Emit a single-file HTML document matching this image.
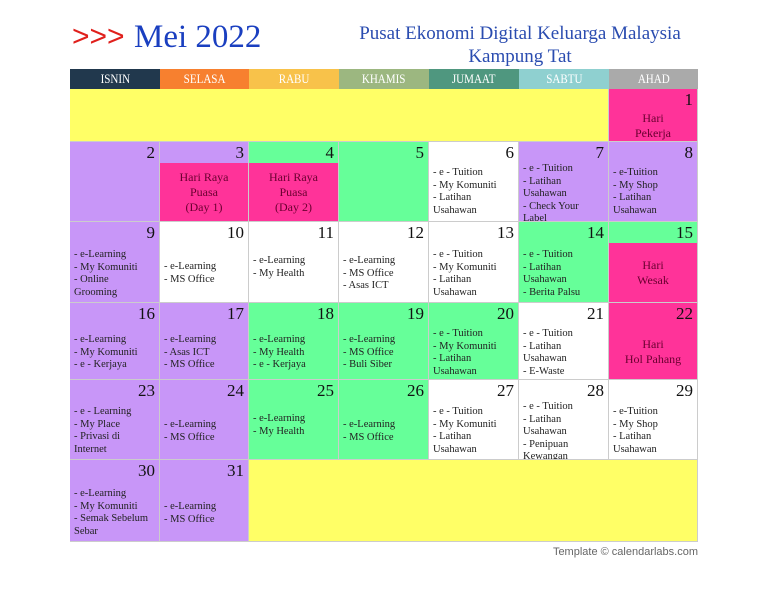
<!DOCTYPE html>
<html><head><meta charset="utf-8"><style>
body{margin:0;width:768px;height:593px;background:#fff;position:relative;overflow:hidden;font-family:"Liberation Serif",serif}
.a{position:absolute}
.h{position:absolute;top:69px;height:20px;color:#fff;font-size:13px;text-align:center;line-height:20px}
.h span{display:inline-block;transform:scaleX(.85)}
.c{position:absolute;box-sizing:border-box;border-right:1px solid #ccc;border-bottom:1px solid #ccc}
.n{position:absolute;right:4px;top:1px;font-size:17px;color:#111}
.t{position:absolute;left:4px;font-size:10.5px;line-height:12.6px;color:#222;white-space:nowrap}
.p{position:absolute;left:0;right:0;background:#ff3399;color:#6a0030;text-align:center;font-size:12px;line-height:15px;display:flex;flex-direction:column;justify-content:center}
.P{background:#c896f8}.G{background:#66ff99}.W{background:#fff}.K{background:#ff3399}.Y{background:#ffff66}
</style></head><body>
<div class="a" style="left:72px;top:20px;font-size:30px;color:#e0201c;font-family:'Liberation Sans',sans-serif">&gt;&gt;&gt;</div>
<div class="a" style="left:134px;top:19px;font-size:33px;color:#1a3fc0">Mei 2022</div>
<div class="a" style="left:330px;top:22px;width:380px;text-align:center;font-size:19px;line-height:23px;color:#2a4cb0">Pusat Ekonomi Digital Keluarga Malaysia<br>Kampung Tat</div>

<div class="h" style="left:70px;width:90px;background:#21384d"><span>ISNIN</span></div>
<div class="h" style="left:160px;width:89px;background:#f7802f"><span>SELASA</span></div>
<div class="h" style="left:249px;width:90px;background:#f8c24a"><span>RABU</span></div>
<div class="h" style="left:339px;width:90px;background:#9cb780"><span>KHAMIS</span></div>
<div class="h" style="left:429px;width:90px;background:#4f977f"><span>JUMAAT</span></div>
<div class="h" style="left:519px;width:90px;background:#8fd0d0"><span>SABTU</span></div>
<div class="h" style="left:609px;width:89px;background:#aaa"><span>AHAD</span></div>

<!-- row 1 -->
<div class="c Y" style="left:70px;top:89px;width:539px;height:53px"></div>
<div class="c K" style="left:609px;top:89px;width:89px;height:53px"><div class="n">1</div><div class="p" style="top:22px;bottom:0;background:none">Hari<br>Pekerja</div></div>

<!-- row 2 -->
<div class="c P" style="left:70px;top:142px;width:90px;height:80px"><div class="n">2</div></div>
<div class="c P" style="left:160px;top:142px;width:89px;height:80px"><div class="n">3</div><div class="p" style="top:21px;bottom:0">Hari Raya<br>Puasa<br>(Day 1)</div></div>
<div class="c G" style="left:249px;top:142px;width:90px;height:80px"><div class="n">4</div><div class="p" style="top:21px;bottom:0">Hari Raya<br>Puasa<br>(Day 2)</div></div>
<div class="c G" style="left:339px;top:142px;width:90px;height:80px"><div class="n">5</div></div>
<div class="c W" style="left:429px;top:142px;width:90px;height:80px"><div class="n">6</div><div class="t" style="top:25px">- e - Tuition<br>- My Komuniti<br>- Latihan<br>Usahawan</div></div>
<div class="c P" style="left:519px;top:142px;width:90px;height:80px"><div class="n">7</div><div class="t" style="top:21px">- e - Tuition<br>- Latihan<br>Usahawan<br>- Check Your<br>Label</div></div>
<div class="c P" style="left:609px;top:142px;width:89px;height:80px"><div class="n">8</div><div class="t" style="top:25px">- e-Tuition<br>- My Shop<br>- Latihan<br>Usahawan</div></div>

<!-- row 3 -->
<div class="c P" style="left:70px;top:222px;width:90px;height:81px"><div class="n">9</div><div class="t" style="top:27px">- e-Learning<br>- My Komuniti<br>- Online<br>Grooming</div></div>
<div class="c W" style="left:160px;top:222px;width:89px;height:81px"><div class="n">10</div><div class="t" style="top:39px">- e-Learning<br>- MS Office</div></div>
<div class="c W" style="left:249px;top:222px;width:90px;height:81px"><div class="n">11</div><div class="t" style="top:33px">- e-Learning<br>- My Health</div></div>
<div class="c W" style="left:339px;top:222px;width:90px;height:81px"><div class="n">12</div><div class="t" style="top:33px">- e-Learning<br>- MS Office<br>- Asas ICT</div></div>
<div class="c W" style="left:429px;top:222px;width:90px;height:81px"><div class="n">13</div><div class="t" style="top:27px">- e - Tuition<br>- My Komuniti<br>- Latihan<br>Usahawan</div></div>
<div class="c G" style="left:519px;top:222px;width:90px;height:81px"><div class="n">14</div><div class="t" style="top:27px">- e - Tuition<br>- Latihan<br>Usahawan<br>- Berita Palsu</div></div>
<div class="c G" style="left:609px;top:222px;width:89px;height:81px"><div class="n">15</div><div class="p" style="top:21px;bottom:0">Hari<br>Wesak</div></div>

<!-- row 4 -->
<div class="c P" style="left:70px;top:303px;width:90px;height:77px"><div class="n">16</div><div class="t" style="top:31px">- e-Learning<br>- My Komuniti<br>- e - Kerjaya</div></div>
<div class="c P" style="left:160px;top:303px;width:89px;height:77px"><div class="n">17</div><div class="t" style="top:31px">- e-Learning<br>- Asas ICT<br>- MS Office</div></div>
<div class="c G" style="left:249px;top:303px;width:90px;height:77px"><div class="n">18</div><div class="t" style="top:31px">- e-Learning<br>- My Health<br>- e - Kerjaya</div></div>
<div class="c G" style="left:339px;top:303px;width:90px;height:77px"><div class="n">19</div><div class="t" style="top:31px">- e-Learning<br>- MS Office<br>- Buli Siber</div></div>
<div class="c G" style="left:429px;top:303px;width:90px;height:77px"><div class="n">20</div><div class="t" style="top:25px">- e - Tuition<br>- My Komuniti<br>- Latihan<br>Usahawan</div></div>
<div class="c W" style="left:519px;top:303px;width:90px;height:77px"><div class="n">21</div><div class="t" style="top:25px">- e - Tuition<br>- Latihan<br>Usahawan<br>- E-Waste</div></div>
<div class="c K" style="left:609px;top:303px;width:89px;height:77px"><div class="n">22</div><div class="p" style="top:21px;bottom:0">Hari<br>Hol Pahang</div></div>

<!-- row 5 -->
<div class="c P" style="left:70px;top:380px;width:90px;height:80px"><div class="n">23</div><div class="t" style="top:26px">- e - Learning<br>- My Place<br>- Privasi di<br>Internet</div></div>
<div class="c P" style="left:160px;top:380px;width:89px;height:80px"><div class="n">24</div><div class="t" style="top:39px">- e-Learning<br>- MS Office</div></div>
<div class="c G" style="left:249px;top:380px;width:90px;height:80px"><div class="n">25</div><div class="t" style="top:33px">- e-Learning<br>- My Health</div></div>
<div class="c G" style="left:339px;top:380px;width:90px;height:80px"><div class="n">26</div><div class="t" style="top:39px">- e-Learning<br>- MS Office</div></div>
<div class="c W" style="left:429px;top:380px;width:90px;height:80px"><div class="n">27</div><div class="t" style="top:26px">- e - Tuition<br>- My Komuniti<br>- Latihan<br>Usahawan</div></div>
<div class="c W" style="left:519px;top:380px;width:90px;height:80px;overflow:hidden"><div class="n">28</div><div class="t" style="top:21px">- e - Tuition<br>- Latihan<br>Usahawan<br>- Penipuan<br>Kewangan</div></div>
<div class="c W" style="left:609px;top:380px;width:89px;height:80px"><div class="n">29</div><div class="t" style="top:26px">- e-Tuition<br>- My Shop<br>- Latihan<br>Usahawan</div></div>

<!-- row 6 -->
<div class="c P" style="left:70px;top:460px;width:90px;height:82px"><div class="n">30</div><div class="t" style="top:28px">- e-Learning<br>- My Komuniti<br>- Semak Sebelum<br>Sebar</div></div>
<div class="c P" style="left:160px;top:460px;width:89px;height:82px"><div class="n">31</div><div class="t" style="top:41px">- e-Learning<br>- MS Office</div></div>
<div class="c Y" style="left:249px;top:460px;width:449px;height:82px"></div>

<div class="a" style="right:70px;top:546px;font-size:11px;color:#666;font-family:'Liberation Sans',sans-serif">Template © calendarlabs.com</div>
</body></html>
